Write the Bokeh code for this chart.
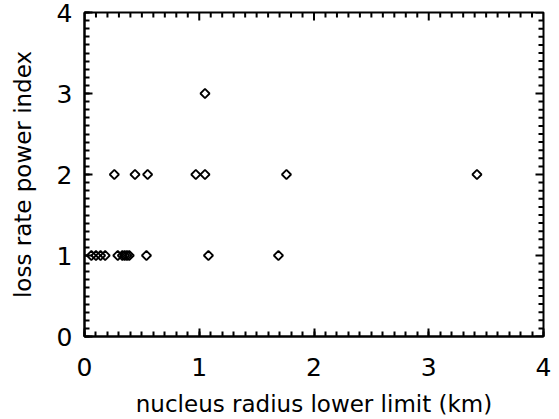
import math
from bokeh.plotting import figure
from bokeh.models import LinearAxis, Range1d, BasicTicker
from bokeh.embed import file_html
from bokeh.resources import INLINE

# Data
x_index1 = [0.06, 0.10, 0.14, 0.18, 0.29, 0.33, 0.35, 0.37, 0.39, 0.54, 1.08, 1.69]
x_index2 = [0.26, 0.44, 0.55, 0.97, 1.05, 1.76, 3.42]
x_index3 = [1.05]

radius = x_index1 + x_index2 + x_index3
power_index = [1] * len(x_index1) + [2] * len(x_index2) + [3] * len(x_index3)

major_ticks = [0, 1, 2, 3, 4]
minor_ticks = [i / 10 for i in range(0, 41) if i % 10 != 0]

x_label = "nucleus radius lower limit (km)"
y_label = "loss rate power index"
FONT = "DejaVu Sans"

FRAME_W, FRAME_H = 459, 324
X0, X1, Y0, Y1 = 0, 4, 0, 4

p = figure(width=559, height=419, output_backend="svg", toolbar_location=None,
           x_range=Range1d(X0, X1), y_range=Range1d(Y0, Y1),
           min_border_left=84, min_border_right=16, min_border_top=12, min_border_bottom=83,
           x_axis_type=None, y_axis_type=None)
p.grid.visible = False
p.outline_line_color = "black"
p.outline_line_width = 2
p.background_fill_color = "white"
p.border_fill_color = "white"

def make_axis(label):
    ax = LinearAxis(ticker=BasicTicker(desired_num_ticks=4, num_minor_ticks=10))
    ax.axis_line_color = "black"
    ax.axis_line_width = 2
    ax.major_tick_line_color = "black"
    ax.minor_tick_line_color = "black"
    ax.major_tick_line_width = 2
    ax.minor_tick_line_width = 2
    ax.major_tick_in = 8
    ax.major_tick_out = 0
    ax.minor_tick_in = 5
    ax.minor_tick_out = 0
    ax.major_label_text_font = FONT
    ax.major_label_text_font_size = "25px"
    ax.major_label_text_color = "black"
    ax.axis_label = label
    ax.axis_label_text_font = FONT
    ax.axis_label_text_font_size = "23px"
    ax.axis_label_text_font_style = "normal"
    ax.axis_label_text_color = "black"
    return ax

bottom = make_axis(x_label)
bottom.major_label_standoff = 21
bottom.axis_label_standoff = 12
left = make_axis(y_label)
left.major_label_standoff = 12
left.axis_label_standoff = 18
p.add_layout(bottom, "below")
p.add_layout(left, "left")

# mirrored inward ticks on top and right, as segments (pixel lengths converted to data units)
px_x = (X1 - X0) / FRAME_W
px_y = (Y1 - Y0) / FRAME_H

def ticks(values, length_px, width):
    lx, ly = length_px * px_x, length_px * px_y
    vals = list(values)
    n = len(vals)
    p.segment(x0=vals, y0=[Y1] * n, x1=vals, y1=[Y1 - ly] * n, line_color="black", line_width=width)
    p.segment(x0=[X1] * n, y0=vals, x1=[X1 - lx] * n, y1=vals, line_color="black", line_width=width)

ticks(major_ticks, 8, 2)
ticks(minor_ticks, 5, 2)

p.scatter(radius, power_index, marker="square", size=6.5, angle=math.pi / 4,
          fill_color=None, line_color="black", line_width=1.8)

open("out.html", "w").write(file_html(p, INLINE))
